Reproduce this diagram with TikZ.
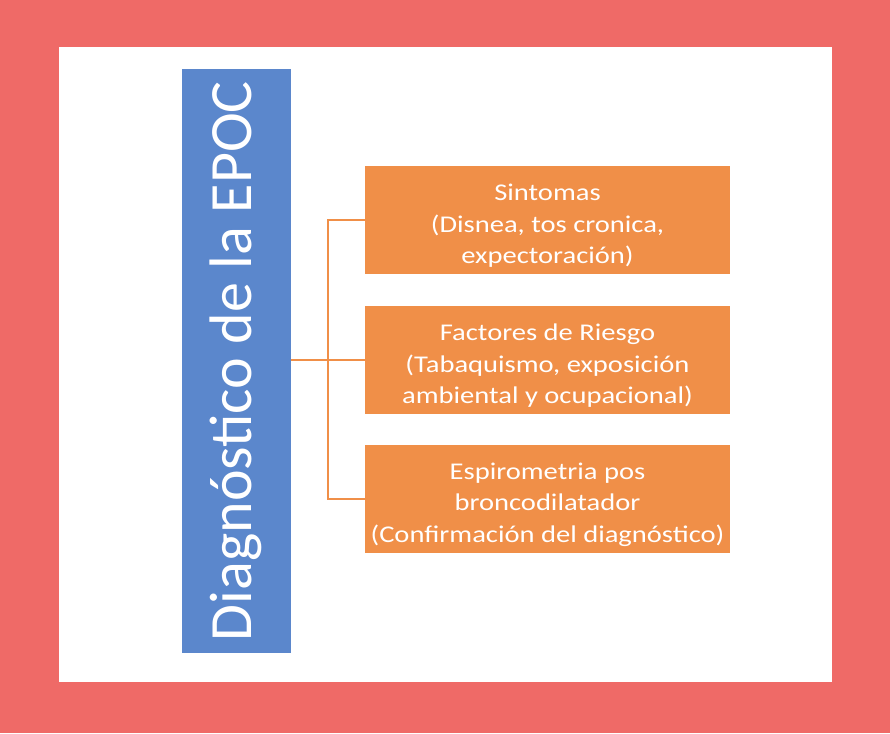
\documentclass[tikz,border=0pt]{standalone}
\usepackage{fontspec}
\setmainfont{Carlito}
\newfontfamily\boxfont[FakeStretch=1.19]{Carlito}
\newcommand{\dropstrut}{\rule{0pt}{28pt}}
\definecolor{bgred}{HTML}{EF6A67}
\definecolor{epocblue}{HTML}{5B87CC}
\definecolor{epocorange}{HTML}{F08F48}
\tikzset{
  titlebox/.style={fill=epocblue, text=white, inner sep=0pt, minimum width=584pt, minimum height=109pt, rotate=90, font=\fontsize{60}{62}\selectfont},
  itembox/.style={fill=epocorange, text=white, inner sep=0pt, minimum width=365pt, minimum height=108pt, align=center, font=\boxfont\fontsize{24}{31.4}\selectfont},
  link/.style={draw=epocorange, line width=2pt}
}
\begin{document}
\begin{tikzpicture}[x=1pt,y=-1pt]
\fill[bgred] (0,0) rectangle (890,733);
\fill[white] (59,47) rectangle (832,682);
\node[titlebox] (title) at (236,361) {Diagnóstico de la EPOC};
\node[itembox] (b1) at (547.5,220) {\dropstrut Sintomas\\(Disnea, tos cronica,\\expectoración)};
\node[itembox] (b2) at (547.5,360) {\dropstrut Factores de Riesgo\\(Tabaquismo, exposición\\ambiental y ocupacional)};
\node[itembox] (b3) at (547.5,499) {\dropstrut Espirometria pos\\broncodilatador\\(Confirmación del diagnóstico)};
\coordinate (j) at (328,360);
\draw[link] (title.south |- b2.west) -- (b2.west);
\draw[link] (b1.west) -- (b1.west -| j) -- (b3.west -| j) -- (b3.west);
\end{tikzpicture}
\end{document}
